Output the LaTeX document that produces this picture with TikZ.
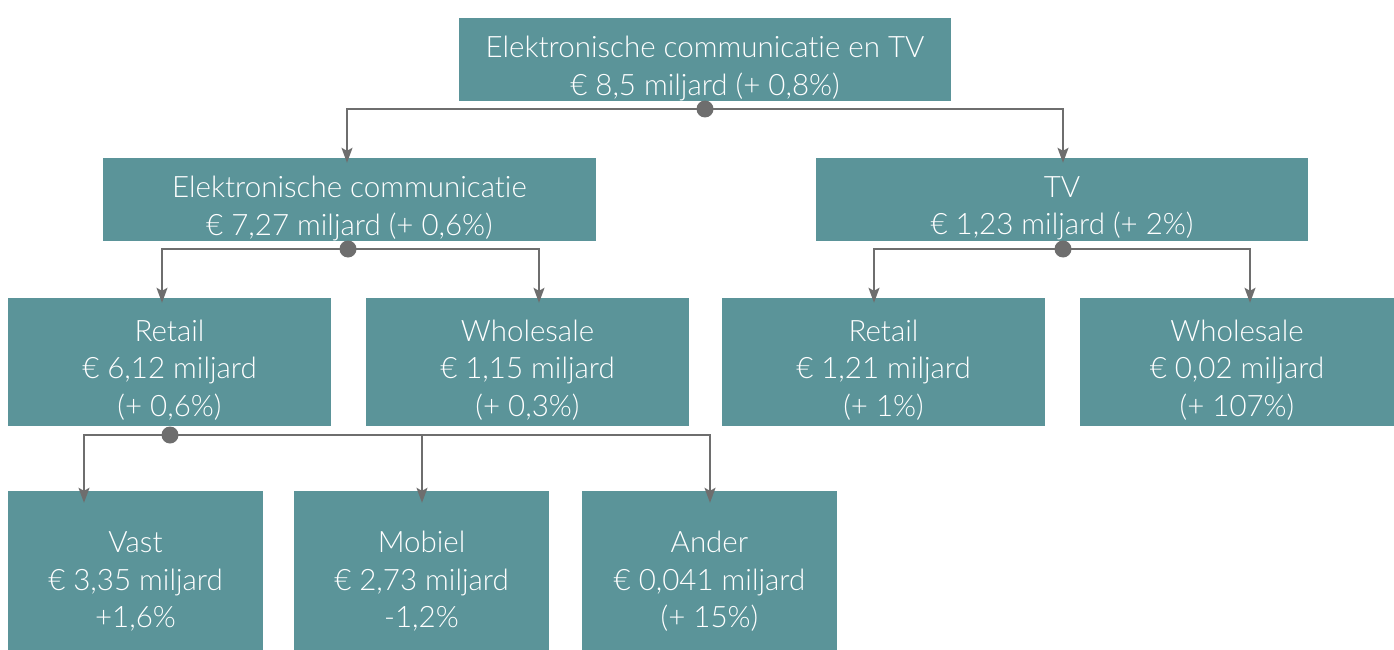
\documentclass[tikz,border=0pt]{standalone}
\usepackage{fontspec}
\setmainfont{Lato}[UprightFont=* Light,Ligatures=NoCommon]
\usetikzlibrary{arrows.meta}
\definecolor{boxc}{HTML}{5B9499}
\definecolor{linec}{HTML}{6E6E6E}
\begin{document}
\begin{tikzpicture}[x=1pt,y=-1pt,
  box/.style={fill=boxc,inner sep=0pt},
  txt/.style={text=white,inner sep=0pt,align=center,font=\fontsize{29.5}{37.5}\selectfont},
  conn/.style={draw=linec,line width=1.6pt},
  arr/.style={conn,-{Stealth[length=15pt,width=11pt,inset=3pt]}}]
\useasboundingbox (0,0) rectangle (1394,650);
% boxes
\node[box,minimum width=492pt,minimum height=83pt,label={[txt,yshift=-9pt]center:Elektronische communicatie en TV\\€ 8,5 miljard (+ 0,8\%)}] (top) at (705,59.5) {};
\node[box,minimum width=493pt,minimum height=83pt,label={[txt,yshift=-9pt]center:Elektronische communicatie\\€ 7,27 miljard (+ 0,6\%)}] (ec) at (349.5,199.5) {};
\node[box,minimum width=492pt,minimum height=83pt,label={[txt,yshift=-9pt]center:TV\\€ 1,23 miljard (+ 2\%)}] (tv) at (1062,199.5) {};
\node[box,minimum width=323pt,minimum height=128pt,label={[txt,yshift=-8pt]center:Retail\\€ 6,12 miljard\\(+ 0,6\%)}] (r1) at (169.5,362) {};
\node[box,minimum width=323pt,minimum height=128pt,label={[txt,yshift=-8pt]center:Wholesale\\€ 1,15 miljard\\(+ 0,3\%)}] (w1) at (527.5,362) {};
\node[box,minimum width=323pt,minimum height=128pt,label={[txt,yshift=-8pt]center:Retail\\€ 1,21 miljard\\(+ 1\%)}] (r2) at (883.5,362) {};
\node[box,minimum width=314pt,minimum height=128pt,label={[txt,yshift=-8pt]center:Wholesale\\€ 0,02 miljard\\(+ 107\%)}] (w2) at (1237,362) {};
\node[box,minimum width=255pt,minimum height=159pt,label={[txt,yshift=-11pt]center:Vast\\€ 3,35 miljard\\+1,6\%}] (vast) at (135.5,570.5) {};
\node[box,minimum width=255pt,minimum height=159pt,label={[txt,yshift=-11pt]center:Mobiel\\€ 2,73 miljard\\-1,2\%}] (mob) at (421.5,570.5) {};
\node[box,minimum width=255pt,minimum height=159pt,label={[txt,yshift=-11pt]center:Ander\\€ 0,041 miljard\\(+ 15\%)}] (and) at (709.5,570.5) {};
% connector points
\coordinate (d0) at (705,109);
\coordinate (d1) at (348,249);
\coordinate (d2) at (1063,249);
\coordinate (d3) at (170,435);
% connectors
\draw[arr] (d0) -| ([xshift=-2.5pt,yshift=-5pt]ec.north);
\draw[arr] (d0) -| ([xshift=1pt,yshift=-5pt]tv.north);
\draw[arr] (d1) -| ([xshift=-7.5pt,yshift=-5pt]r1.north);
\draw[arr] (d1) -| ([xshift=11.5pt,yshift=-5pt]w1.north);
\draw[arr] (d2) -| ([xshift=-9.5pt,yshift=-5pt]r2.north);
\draw[arr] (d2) -| ([xshift=13pt,yshift=-5pt]w2.north);
\draw[arr] (d3) -| ([xshift=-51.5pt,yshift=-12pt]vast.north);
\draw[arr] (d3) -| ([xshift=0.5pt,yshift=-12pt]mob.north);
\draw[arr] (d3) -| ([xshift=0.5pt,yshift=-12pt]and.north);
\fill[linec] (d0) circle (8.5pt);
\fill[linec] (d1) circle (8.5pt);
\fill[linec] (d2) circle (8.5pt);
\fill[linec] (d3) circle (8.5pt);
\end{tikzpicture}
\end{document}
